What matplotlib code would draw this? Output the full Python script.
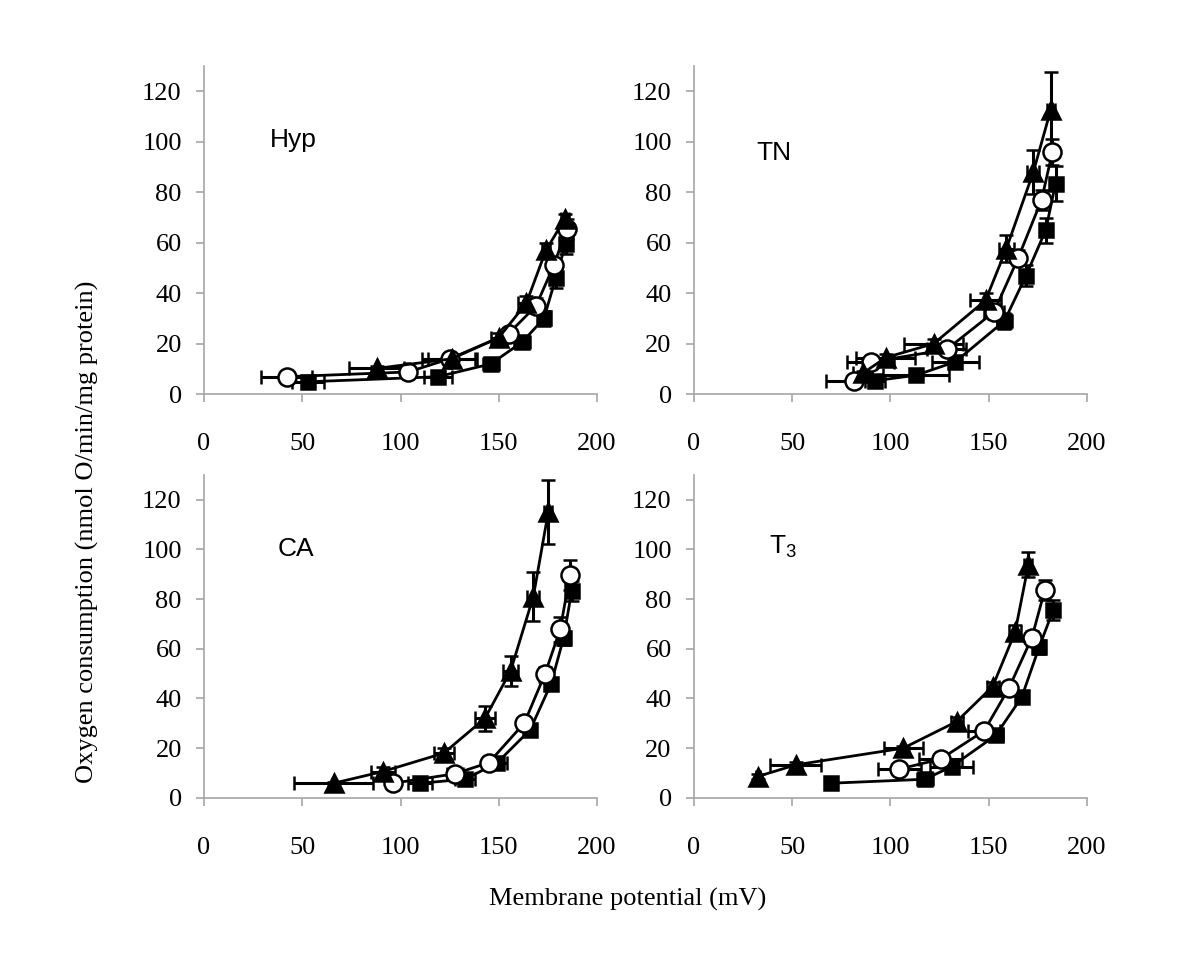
import matplotlib
matplotlib.use('Agg')
import matplotlib.pyplot as plt

# Hyp
hyp_sq_x = [53, 119, 146, 162, 173, 179, 184]
hyp_sq_y = [4.9, 6.9, 12, 20.7, 30, 46, 59.4]
hyp_sq_xerr = [8, 7, 4, 4, 3, 2, 2]
hyp_sq_yerr = [1, 1, 1.5, 2, 3, 4, 4]
hyp_ci_x = [42, 104, 125, 155, 169, 178, 184.6]
hyp_ci_y = [6.9, 8.8, 14, 24, 35, 51, 65.6]
hyp_ci_xerr = [13, 0, 14, 3, 3, 2, 2]
hyp_ci_yerr = [1, 1, 2, 2, 3, 3, 4]
hyp_tr_x = [88, 126, 150, 164, 174, 183.7]
hyp_tr_y = [10.2, 14, 22.4, 36, 57, 69.6]
hyp_tr_xerr = [14, 12, 4, 4, 2, 2]
hyp_tr_yerr = [1, 2, 2, 3, 3, 2]

# TN
tn_sq_x = [92, 113, 133, 158, 169, 179, 184]
tn_sq_y = [5.3, 7.5, 12.8, 29, 47, 65, 83.4]
tn_sq_xerr = [5, 17, 12, 4, 3, 2, 2]
tn_sq_yerr = [1, 1, 2, 3, 4, 5, 7]
tn_ci_x = [81.4, 89.9, 128.6, 152.7, 165, 176.9, 182.4]
tn_ci_y = [5.3, 12.7, 17.7, 32.6, 54, 77, 96]
tn_ci_xerr = [14, 12, 10, 5, 3, 3, 3]
tn_ci_yerr = [1, 1.5, 2, 3, 3, 4, 5]
tn_tr_x = [85.8, 97.6, 122, 148.4, 159, 172.7, 181.5]
tn_tr_y = [8.2, 14.5, 20, 37.2, 57.7, 88, 112.5]
tn_tr_xerr = [5, 15, 15, 8, 4, 3, 2]
tn_tr_yerr = [1, 1.5, 2, 3, 5.5, 8.6, 15]

# CA
ca_sq_x = [110, 132.8, 149, 166, 176.6, 183, 187.1]
ca_sq_y = [5.9, 7.5, 14, 27.4, 45.9, 64.3, 83.1]
ca_sq_xerr = [6, 5, 5, 3, 3, 3, 3]
ca_sq_yerr = [1, 1, 1, 2, 2, 3, 4]
ca_ci_x = [96.3, 127.7, 145, 163, 173.5, 181.3, 186.3]
ca_ci_y = [5.9, 9.7, 14.2, 30.1, 49.8, 67.9, 89.8]
ca_ci_xerr = [3, 4, 3, 2, 2, 2, 2]
ca_ci_yerr = [1, 1, 1.5, 2, 3, 5, 6]
ca_tr_x = [66, 91, 122, 143, 156, 167.6, 175.2]
ca_tr_y = [5.9, 10.6, 18, 32, 51, 81, 115]
ca_tr_xerr = [20, 6, 5, 5, 4, 3, 2]
ca_tr_yerr = [0.5, 2, 2, 5, 6, 10, 13]

# T3
t3_sq_x = [69.7, 117.6, 131.1, 153.5, 166.8, 175.7, 182.9]
t3_sq_y = [5.9, 7.5, 12.6, 25.1, 40.5, 60.7, 75.7]
t3_sq_xerr = [1, 4, 11, 4, 3, 2, 2]
t3_sq_yerr = [1, 1, 1, 2, 2, 3, 4]
t3_ci_x = [104.5, 125.5, 147.7, 160.3, 171.9, 178.6]
t3_ci_y = [11.6, 15.6, 27, 44.2, 64.3, 83.8]
t3_ci_xerr = [11, 11, 8, 3, 2, 2]
t3_ci_yerr = [1, 2, 2, 2, 3, 4]
t3_tr_x = [32.4, 51.9, 106.5, 133.7, 152, 163.4, 170.2]
t3_tr_y = [8.6, 13.3, 20, 30.7, 44.8, 66.6, 93.8]
t3_tr_xerr = [1, 13, 10, 3, 3, 3, 2]
t3_tr_yerr = [1, 1, 1, 2, 2, 3, 5]

panels = [
    ('Hyp', [0.170, 0.589, 0.3275, 0.342],
     [(hyp_sq_x, hyp_sq_y, hyp_sq_xerr, hyp_sq_yerr),
      (hyp_ci_x, hyp_ci_y, hyp_ci_xerr, hyp_ci_yerr),
      (hyp_tr_x, hyp_tr_y, hyp_tr_xerr, hyp_tr_yerr)], (33.6, 100.6)),
    ('TN', [0.5783, 0.589, 0.3275, 0.342],
     [(tn_sq_x, tn_sq_y, tn_sq_xerr, tn_sq_yerr),
      (tn_ci_x, tn_ci_y, tn_ci_xerr, tn_ci_yerr),
      (tn_tr_x, tn_tr_y, tn_tr_xerr, tn_tr_yerr)], (32, 95.4)),
    ('CA', [0.170, 0.168, 0.3275, 0.337],
     [(ca_sq_x, ca_sq_y, ca_sq_xerr, ca_sq_yerr),
      (ca_ci_x, ca_ci_y, ca_ci_xerr, ca_ci_yerr),
      (ca_tr_x, ca_tr_y, ca_tr_xerr, ca_tr_yerr)], (37.7, 100)),
    ('T$_\\mathregular{3}$', [0.5783, 0.168, 0.3275, 0.337],
     [(t3_sq_x, t3_sq_y, t3_sq_xerr, t3_sq_yerr),
      (t3_ci_x, t3_ci_y, t3_ci_xerr, t3_ci_yerr),
      (t3_tr_x, t3_tr_y, t3_tr_xerr, t3_tr_yerr)], (38, 101)),
]

styles = [
    dict(marker='s', markersize=10, markerfacecolor='black'),
    dict(marker='o', markersize=13, markerfacecolor='white'),
    dict(marker='^', markersize=13, markerfacecolor='black'),
]

fig = plt.figure(figsize=(12, 9.59), dpi=100)
grey = '#a6a6a6'

for name, pos, series, lab in panels:
    ax = fig.add_axes(pos)
    for (x, y, xe, ye), st in zip(series, styles):
        ax.errorbar(x, y, xerr=xe, yerr=ye, color='black', linewidth=2,
                    elinewidth=2.2, capsize=5, capthick=2.2,
                    markeredgecolor='black', markeredgewidth=1.8, **st)
    ax.set_xlim(0, 200)
    ax.set_ylim(0, 130)
    ax.set_xticks([0, 50, 100, 150, 200])
    ax.set_yticks([0, 20, 40, 60, 80, 100, 120])
    for s in ['top', 'right']:
        ax.spines[s].set_visible(False)
    for s in ['left', 'bottom']:
        ax.spines[s].set_color(grey)
        ax.spines[s].set_linewidth(1.2)
    ax.spines['bottom'].set_zorder(0)
    ax.tick_params(colors=grey, labelcolor='black', length=6, width=1.2)
    ax.tick_params(axis='x', pad=22)
    ax.tick_params(axis='y', pad=10)
    for t in ax.get_xticklabels() + ax.get_yticklabels():
        t.set_fontfamily('Liberation Serif')
        t.set_fontsize(19)
    ax.text(lab[0], lab[1], name, fontsize=19, family='Liberation Sans',
            va='center', ha='left')
    ax.set_clip_on(False)
    for art in ax.get_children():
        try:
            art.set_clip_on(False)
        except Exception:
            pass

fig.text(0.073, 0.445, 'Oxygen consumption (nmol O/min/mg protein)',
         rotation=90, va='center', ha='center', fontsize=19,
         family='Liberation Serif')
fig.text(0.523, 0.062, 'Membrane potential (mV)', va='center', ha='center',
         fontsize=19, family='Liberation Serif')

fig.savefig('out.png', dpi=100)
